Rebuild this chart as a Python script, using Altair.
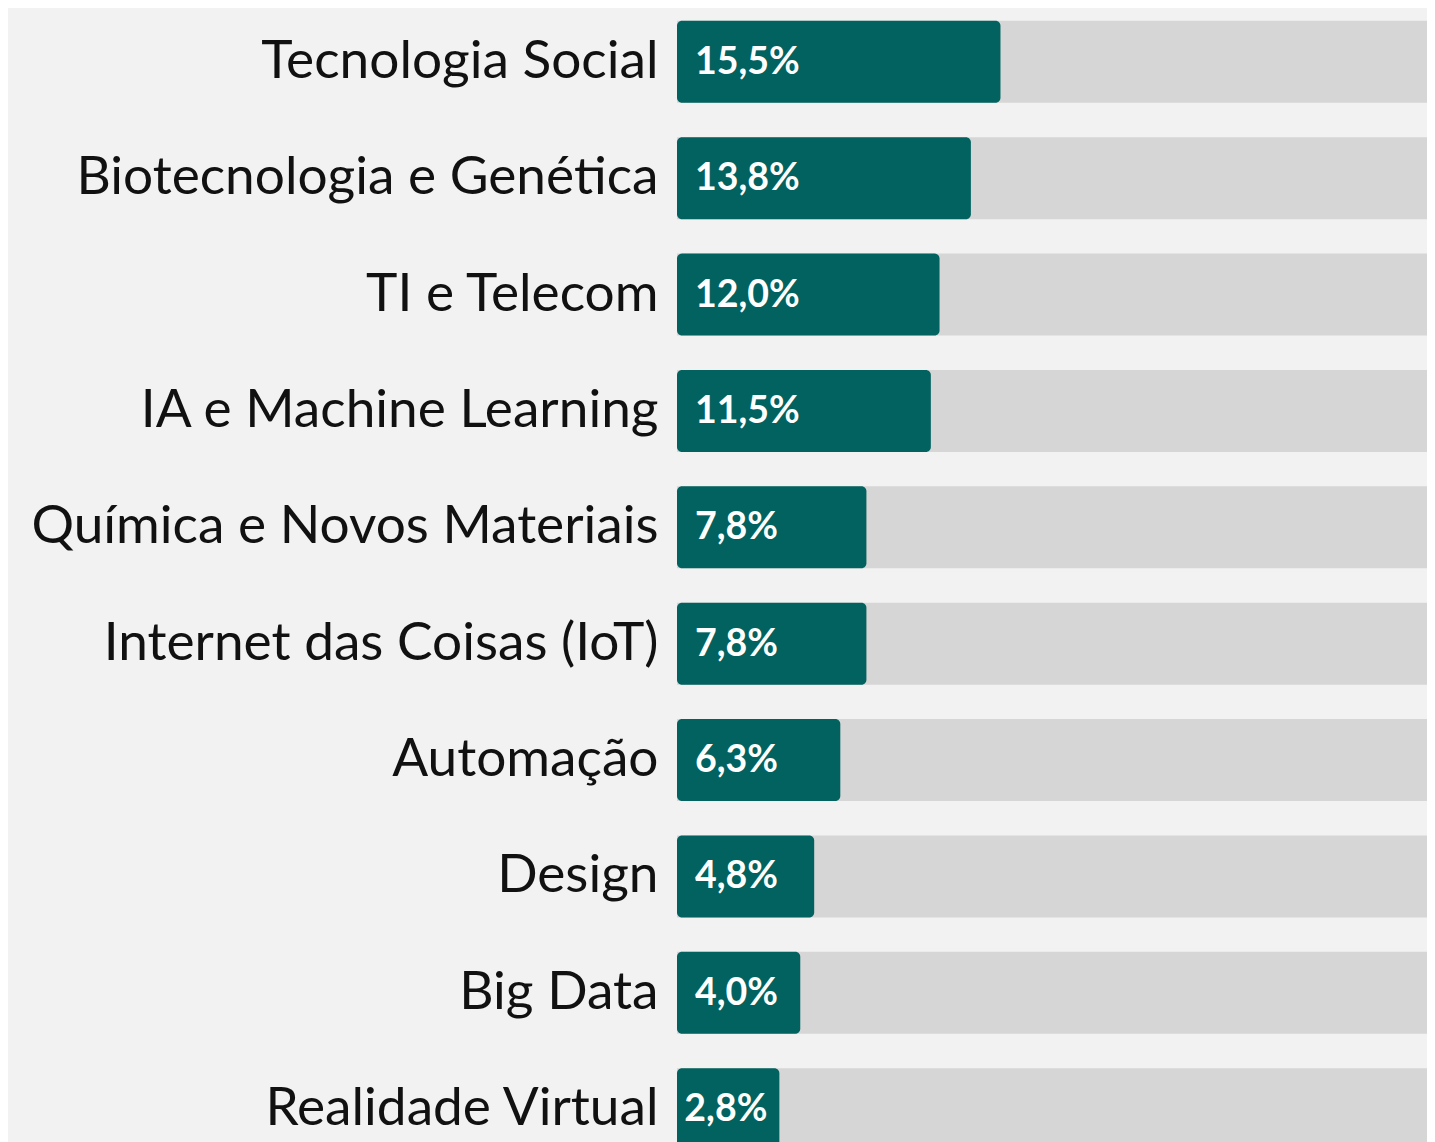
import altair as alt
import pandas as pd

categories = [
    "Tecnologia Social",
    "Biotecnologia e Genética",
    "TI e Telecom",
    "IA e Machine Learning",
    "Química e Novos Materiais",
    "Internet das Coisas (IoT)",
    "Automação",
    "Design",
    "Big Data",
    "Realidade Virtual",
]
values = [15.5, 13.8, 12.0, 11.5, 7.8, 7.8, 6.3, 4.8, 4.0, 2.8]
labels = ["15,5%", "13,8%", "12,0%", "11,5%", "7,8%", "7,8%", "6,3%", "4,8%", "4,0%", "2,8%"]

df = pd.DataFrame({"cat": categories, "value": values, "label": labels})

LEFT = 669
W = 750
H = 1155
FONT = "Lato"

y = alt.Y(
    "cat:N",
    sort=categories,
    scale=alt.Scale(paddingInner=0.295, paddingOuter=0.11),
    axis=alt.Axis(
        title=None,
        domain=False,
        ticks=False,
        labelFont=FONT,
        labelFontSize=53.2,
        labelColor="#111111",
        labelPadding=19,
        labelLimit=0,
    ),
)

xscale = alt.Scale(domain=[-3.08, -3.08 + W / 17.41], nice=False, zero=False)

track = alt.Chart(df).mark_rect(color="#d6d6d6").encode(
    y=y,
    x=alt.value(0),
    x2=alt.value(W + 20),
)

bars = alt.Chart(df).mark_rect(color="#01625f", cornerRadius=5).encode(
    y=y,
    x=alt.X("value:Q", scale=xscale, axis=None),
    x2=alt.value(0),
)

text_style = dict(font=FONT, fontWeight="bold", fontSize=37.5, color="white", baseline="middle", dy=1)

text_wide = alt.Chart(df).transform_filter("datum.value >= 3.5").mark_text(
    align="left", **text_style
).encode(
    y=y,
    x=alt.value(18),
    text="label:N",
)

text_narrow = alt.Chart(df).transform_filter("datum.value < 3.5").mark_text(
    align="right", dx=-12, **text_style
).encode(
    y=y,
    x=alt.X("value:Q", scale=xscale, axis=None),
    text="label:N",
)

chart = (
    alt.layer(track, bars, text_wide, text_narrow)
    .properties(
        width=W,
        height=H,
        autosize=alt.AutoSizeParams(type="none"),
        padding={"left": LEFT, "top": 0, "right": 0, "bottom": 0},
        background="#f2f2f2",
    )
    .configure_view(stroke=None)
)

chart.save("out.html", embed_options={"renderer": "svg", "actions": False})
